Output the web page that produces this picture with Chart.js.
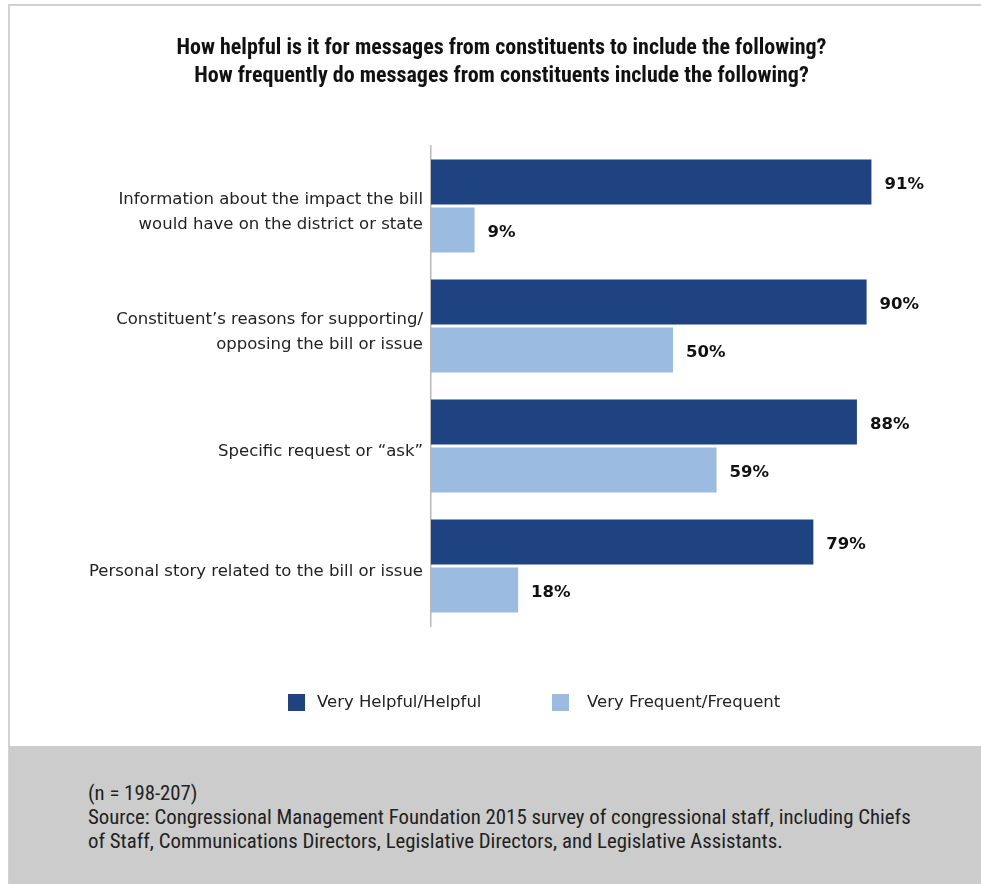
<!DOCTYPE html>
<html>
<head>
<meta charset="utf-8">
<script src="https://cdn.jsdelivr.net/npm/chart.js@4.4.1/dist/chart.umd.min.js"></script>
<style>
  body { margin: 0; background: #fff; width: 981px; height: 884px; position: relative; overflow: hidden; }
  #topLine { position: absolute; left: 8px; top: 4px; width: 973px; height: 2px; background: #d2d2d2; }
  #leftLine { position: absolute; left: 8px; top: 4px; width: 2px; height: 880px; background: #d2d2d2; }
  #chartBox { position: absolute; left: 0; top: 0; width: 981px; height: 745px; }
  .legend { position: absolute; top: 693px; font: 16.5px "DejaVu Sans", sans-serif; color: #222; line-height: 18px; }
  .legend span.sw { position: absolute; top: 1px; width: 17px; height: 17px; }
  .footer { position: absolute; left: 9px; top: 746px; width: 972px; height: 138px; background: #cccccc;
    font: 20.8px "Roboto Condensed", Roboto, sans-serif; font-stretch: condensed; color: #222; }
  .footer p { margin: 0; position: absolute; left: 79px; top: 35px; line-height: 24px; white-space: nowrap; }
</style>
</head>
<body>
<div id="topLine"></div>
<div id="leftLine"></div>
<div id="chartBox"><canvas id="surveyChart"></canvas></div>
<div id="legend"></div>
<div class="footer"><p>(n = 198-207)<br>Source: Congressional Management Foundation 2015 survey of congressional staff, including Chiefs<br>of Staff, Communications Directors, Legislative Directors, and Legislative Assistants.</p></div>

<script>
// ====================== Data ======================
const categories = [
  ["Information about the impact the bill", "would have on the district or state"],
  ["Constituent\u2019s reasons for supporting/", "opposing the bill or issue"],
  "Specific request or \u201cask\u201d",
  "Personal story related to the bill or issue"
];
const helpfulValues = [91, 90, 88, 79];
const frequentValues = [9, 50, 59, 18];
const seriesNames = ["Very Helpful/Helpful", "Very Frequent/Frequent"];
const titleLines = [
  "How helpful is it for messages from constituents to include the following?",
  "How frequently do messages from constituents include the following?"
];

const DARK = "#1e4380";
const LIGHT = "#9cbbe1";

// ====================== Legend (html) ======================
const legendEl = document.getElementById("legend");
[[DARK, 288, 317], [LIGHT, 552, 587]].forEach(([color, boxX, textX], i) => {
  const item = document.createElement("div");
  item.className = "legend";
  item.style.left = boxX + "px";
  item.innerHTML = `<span class="sw" style="left:0;background:${color}"></span>` +
    `<span style="position:absolute;left:${textX - boxX}px;white-space:nowrap">${seriesNames[i]}</span>`;
  legendEl.appendChild(item);
});

// ====================== Value labels ======================
const valueLabels = {
  id: "valueLabels",
  afterDatasetsDraw(chart) {
    const ctx = chart.ctx;
    ctx.save();
    ctx.font = "bold 16.5px 'DejaVu Sans', sans-serif";
    ctx.fillStyle = "#111";
    ctx.textAlign = "left";
    ctx.textBaseline = "middle";
    chart.data.datasets.forEach((ds, i) => {
      chart.getDatasetMeta(i).data.forEach((bar, j) => {
        ctx.fillText(ds.data[j] + "%", bar.x + 13, bar.y + 3);
      });
    });
    ctx.restore();
  }
};

// ====================== Chart ======================
const ctx = document.getElementById("surveyChart").getContext("2d");
new Chart(ctx, {
  type: "bar",
  data: {
    labels: categories,
    datasets: [
      { label: seriesNames[0], data: helpfulValues, backgroundColor: DARK },
      { label: seriesNames[1], data: frequentValues, backgroundColor: LIGHT }
    ]
  },
  options: {
    indexAxis: "y",
    responsive: true,
    maintainAspectRatio: false,
    animation: false,
    datasets: { bar: { categoryPercentage: 0.8, barPercentage: 0.94 } },
    layout: { padding: { left: 88, right: 66, top: 0, bottom: 119 } },
    scales: {
      x: { display: false, min: 0, max: 100 },
      y: {
        grid: { display: false },
        border: { display: true, color: "#b8b8b8", width: 1.5 },
        ticks: {
          color: "#222",
          padding: 0,
          labelOffset: 6,
          font: { family: "'DejaVu Sans', sans-serif", size: 16.5, lineHeight: 1.52 }
        },
        afterFit: scale => { scale.width = 431 - 88; }
      }
    },
    plugins: {
      legend: { display: false },
      tooltip: { enabled: false },
      title: {
        display: true,
        text: titleLines,
        color: "#111",
        font: { family: "'Roboto Condensed', Roboto, sans-serif", size: 22, weight: "bold", lineHeight: 28 / 22 },
        padding: { top: 34, bottom: 56 }
      }
    }
  },
  plugins: [valueLabels]
});
</script>
</body>
</html>
